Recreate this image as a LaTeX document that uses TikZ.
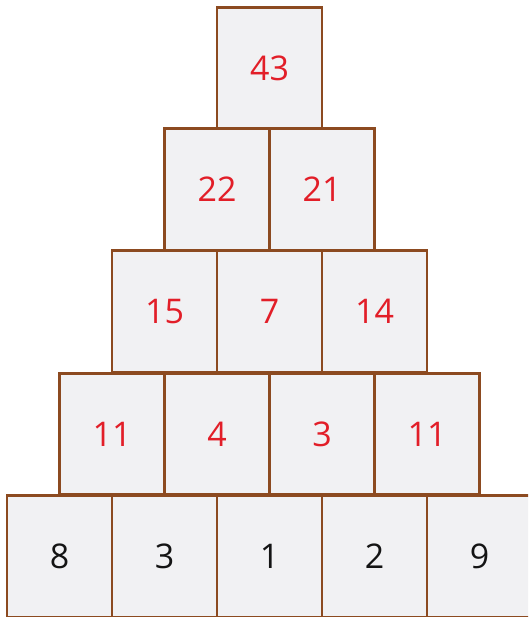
\documentclass[tikz,border=0pt]{standalone}
\usepackage{fontspec}
\setmainfont{Open Sans}
\usepackage{xcolor}
\definecolor{cellborder}{RGB}{140, 74, 32}
\definecolor{cellfill}{RGB}{241, 241, 243}
\definecolor{sumcolor}{RGB}{226, 30, 40}
\definecolor{basecolor}{RGB}{20, 20, 20}

\begin{document}
\begin{tikzpicture}[x=1pt, y=-1pt,
    cell/.style={rectangle, draw=cellborder, fill=cellfill, line width=2.6pt,
                 minimum width=105pt, minimum height=121.5pt, inner sep=0pt,
                 text=#1, font=\fontsize{34}{40}\selectfont},
    cell/.default=sumcolor
]
\useasboundingbox (0,0) rectangle (528,617);
\clip (0,0) rectangle (528,617);

% Bottom row (given numbers)
\foreach \v [count=\i] in {8,3,1,2,9}
    \node[cell=basecolor] (b\i) at ({7+105*(\i-1)+52.5}, 556.5) {\v};

% Fourth row
\foreach \v [count=\i] in {11,4,3,11}
    \node[cell] (d\i) at ({59.5+105*(\i-1)+52.5}, 434) {\v};

% Third row
\foreach \v [count=\i] in {15,7,14}
    \node[cell] (c\i) at ({112+105*(\i-1)+52.5}, 311.5) {\v};

% Second row
\node[cell] (s1) at (217, 189.5) {22};
\node[cell] (s2) at (322, 189.5) {21};

% Top
\node[cell] (top) at (269.5, 68) {43};

\end{tikzpicture}
\end{document}
